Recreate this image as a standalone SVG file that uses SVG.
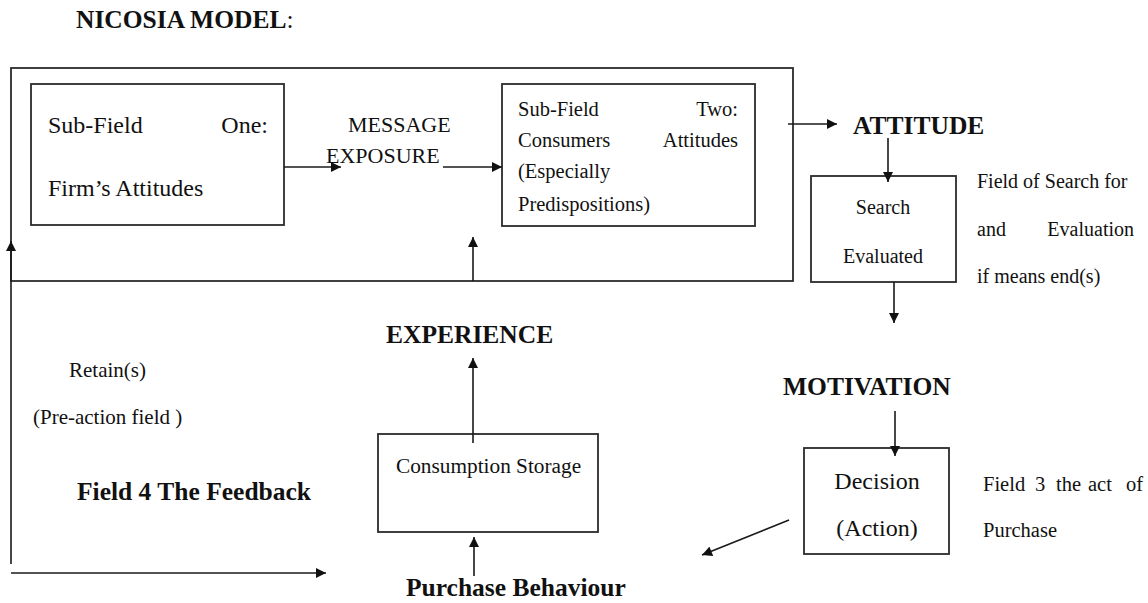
<svg xmlns="http://www.w3.org/2000/svg" width="1148" height="603" viewBox="0 0 1148 603">
  <style>
    .box { fill: none; stroke: #2b2b2b; stroke-width: 1.8; }
    .ln { fill: none; stroke: #1a1a1a; stroke-width: 1.6; }
    .t { font-family: "Liberation Serif", "Times New Roman", serif; fill: #111; }
    .b { font-family: "Liberation Serif", "Times New Roman", serif; font-weight: bold; fill: #111; font-size: 25.5px; }
  </style>
  <defs>
    <marker id="arrow" viewBox="0 0 10 10" refX="10" refY="5" markerUnits="userSpaceOnUse" markerWidth="11" markerHeight="10" orient="auto">
      <path d="M0,0 L10,5 L0,10 z" fill="#111"/>
    </marker>
  </defs>

  <!-- title -->
  <text class="b" x="76" y="28">NICOSIA MODEL<tspan font-weight="normal">:</tspan></text>

  <!-- field one and two enclosure -->
  <g id="field-one-two">
    <rect class="box" x="11" y="68" width="782" height="213"/>
  </g>

  <g id="subfield-one">
    <rect class="box" x="31" y="84" width="253" height="141"/>
    <text class="t" font-size="24" x="48" y="133">Sub-Field</text>
    <text class="t" font-size="24" x="268" y="133" text-anchor="end">One:</text>
    <text class="t" font-size="24" x="48" y="196">Firm’s Attitudes</text>
  </g>

  <g id="message-exposure">
    <text class="t" font-size="22" x="348" y="132">MESSAGE</text>
    <text class="t" font-size="22" x="326" y="163">EXPOSURE</text>
  </g>

  <g id="subfield-two">
    <rect class="box" x="502" y="84" width="253" height="142"/>
    <text class="t" font-size="20.5" x="518" y="116">Sub-Field</text>
    <text class="t" font-size="20.5" x="738" y="116" text-anchor="end">Two:</text>
    <text class="t" font-size="20.5" x="518" y="147">Consumers</text>
    <text class="t" font-size="20.5" x="738" y="147" text-anchor="end">Attitudes</text>
    <text class="t" font-size="20.5" x="518" y="178">(Especially</text>
    <text class="t" font-size="20.5" x="518" y="211">Predispositions)</text>
  </g>

  <g id="attitude">
    <text class="b" x="853" y="134">ATTITUDE</text>
  </g>

  <g id="search-evaluated">
    <rect class="box" x="811" y="176" width="145" height="106"/>
    <text class="t" font-size="20" x="883" y="214" text-anchor="middle">Search</text>
    <text class="t" font-size="20" x="883" y="263" text-anchor="middle">Evaluated</text>
  </g>

  <g id="field-two-note">
    <text class="t" font-size="20" x="977" y="188">Field of Search for</text>
    <text class="t" font-size="20" x="977" y="236">and</text>
    <text class="t" font-size="20" x="1134" y="236" text-anchor="end">Evaluation</text>
    <text class="t" font-size="20" x="977" y="283">if means end(s)</text>
  </g>

  <g id="motivation">
    <text class="b" x="783" y="395">MOTIVATION</text>
  </g>

  <g id="decision">
    <rect class="box" x="804" y="448" width="145" height="106"/>
    <text class="t" font-size="24" x="877" y="489" text-anchor="middle">Decision</text>
    <text class="t" font-size="24" x="877" y="536" text-anchor="middle">(Action)</text>
  </g>

  <g id="field-three-note">
    <text class="t" font-size="20.5" x="983" y="491">Field</text>
    <text class="t" font-size="20.5" x="1035" y="491">3</text>
    <text class="t" font-size="20.5" x="1056" y="491">the</text>
    <text class="t" font-size="20.5" x="1088" y="491">act</text>
    <text class="t" font-size="20.5" x="1143" y="491" text-anchor="end">of</text>
    <text class="t" font-size="20.5" x="983" y="537">Purchase</text>
  </g>

  <g id="experience">
    <text class="b" x="386" y="343">EXPERIENCE</text>
  </g>

  <g id="consumption-storage">
    <rect class="box" x="378" y="434" width="220" height="98"/>
    <text class="t" font-size="21.3" x="396" y="473">Consumption Storage</text>
  </g>

  <g id="purchase-behaviour">
    <text class="b" x="406" y="596">Purchase Behaviour</text>
  </g>

  <g id="feedback">
    <text class="t" font-size="21" x="69" y="377">Retain(s)</text>
    <text class="t" font-size="21" x="33" y="424">(Pre-action field )</text>
    <text class="b" x="77" y="500">Field 4 The Feedback</text>
  </g>

  <!-- connectors -->
  <g id="connectors">
    <line class="ln" x1="284" y1="167" x2="341" y2="167" marker-end="url(#arrow)"/>
    <line class="ln" x1="443" y1="167" x2="502" y2="167" marker-end="url(#arrow)"/>
    <line class="ln" x1="473" y1="281" x2="473" y2="237" marker-end="url(#arrow)"/>
    <line class="ln" x1="788" y1="124" x2="837" y2="124" marker-end="url(#arrow)"/>
    <line class="ln" x1="888" y1="138" x2="888" y2="182" marker-end="url(#arrow)"/>
    <line class="ln" x1="894" y1="282" x2="894" y2="323" marker-end="url(#arrow)"/>
    <line class="ln" x1="895" y1="411" x2="895" y2="456" marker-end="url(#arrow)"/>
    <line class="ln" x1="789" y1="520" x2="702" y2="555" marker-end="url(#arrow)"/>
    <line class="ln" x1="474" y1="576" x2="474" y2="537" marker-end="url(#arrow)"/>
    <line class="ln" x1="473" y1="443" x2="473" y2="358" marker-end="url(#arrow)"/>
    <line class="ln" x1="11" y1="564" x2="11" y2="241" marker-end="url(#arrow)"/>
    <line class="ln" x1="11" y1="573" x2="326" y2="573" marker-end="url(#arrow)"/>
  </g>
</svg>
